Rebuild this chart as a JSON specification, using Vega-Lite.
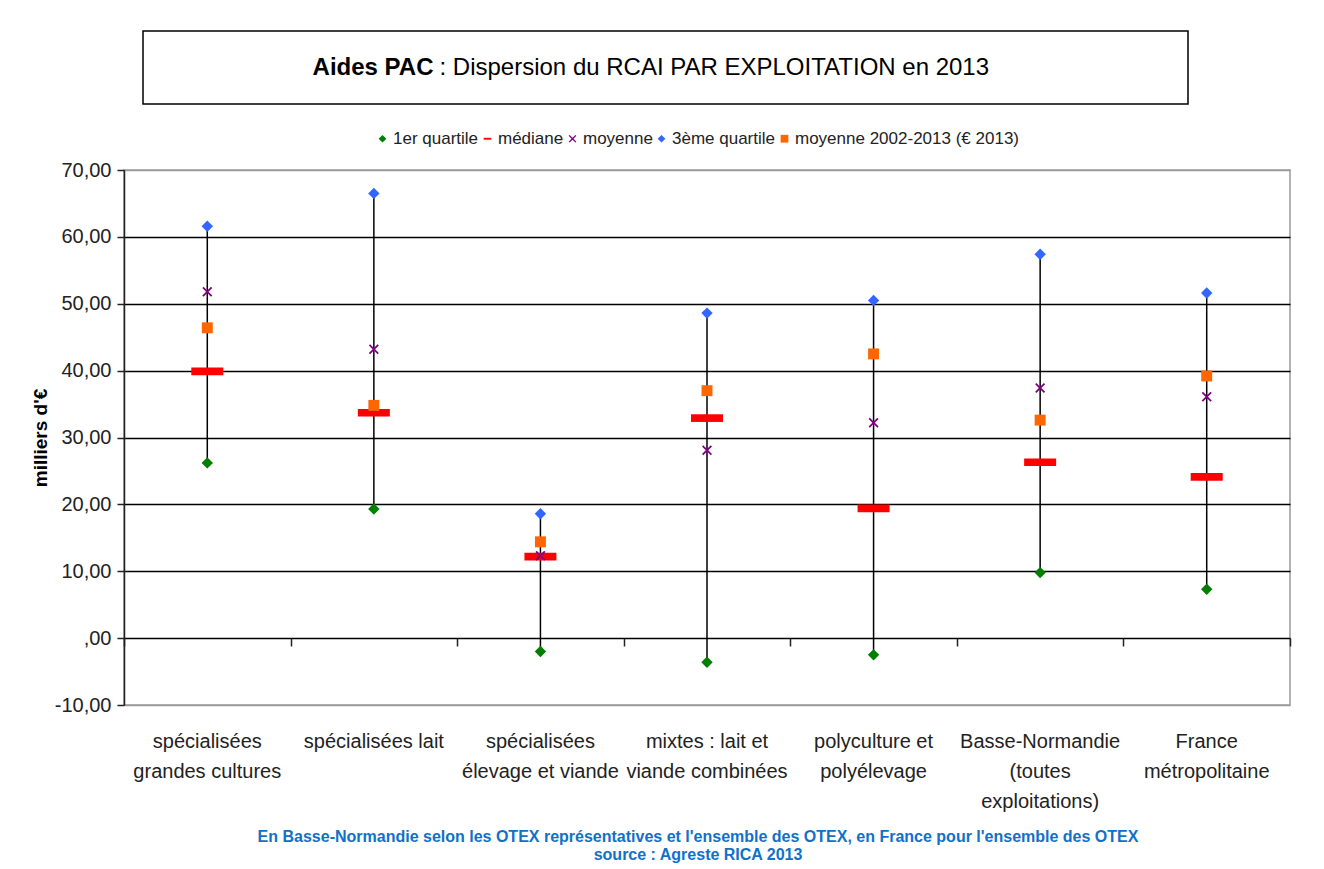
{
  "$schema": "https://vega.github.io/schema/vega-lite/v6.json",
  "background": "white",
  "padding": {"left": 30, "top": 30, "right": 10, "bottom": 5},
  "config": {
    "font": "Liberation Sans, Arial, sans-serif",
    "view": {"stroke": null}
  },
  "title": {
    "text": ["En Basse-Normandie selon les OTEX représentatives et l'ensemble des OTEX, en France pour l'ensemble des OTEX", "source : Agreste RICA 2013"],
    "orient": "bottom",
    "anchor": "middle",
    "color": "#1170C8",
    "font": "Liberation Sans, Arial, sans-serif",
    "fontSize": 16,
    "fontWeight": "bold",
    "lineHeight": 18,
    "offset": 17,
    "dx": 37
  },
  "spacing": 24,
  "resolve": {
    "scale": {"color": "independent", "shape": "independent"},
    "legend": {"color": "independent", "shape": "independent"}
  },
  "vconcat": [
    {
      "spacing": 0,
      "hconcat": [
        {
          "width": 18,
          "height": 73,
          "data": {"values": [{"vide": ""}]},
          "mark": {"type": "text", "opacity": 0},
          "encoding": {"text": {"field": "vide"}}
        },
        {
          "width": 1045,
          "height": 73,
          "data": {"values": [{"gras": "Aides PAC", "suite": ": Dispersion du RCAI PAR EXPLOITATION en 2013"}]},
          "view": {"stroke": "black", "strokeWidth": 1.5},
          "layer": [
            {
              "mark": {"type": "text", "align": "right", "baseline": "middle", "dx": -232, "fontSize": 24, "fontWeight": "bold", "color": "black"},
              "encoding": {"text": {"field": "gras"}}
            },
            {
              "mark": {"type": "text", "align": "left", "baseline": "middle", "dx": -226, "fontSize": 24, "color": "black"},
              "encoding": {"text": {"field": "suite"}}
            }
          ]
        }
      ]
    },
    {
      "width": 1166,
      "height": 535,
      "view": {"stroke": "#9a9a9a", "strokeWidth": 1.5},
      "data": {"values": [
        {"cat": "spécialisées grandes cultures", "serie": "1er quartile", "valeur": 26.2},
        {"cat": "spécialisées grandes cultures", "serie": "médiane", "valeur": 39.9},
        {"cat": "spécialisées grandes cultures", "serie": "moyenne", "valeur": 51.8},
        {"cat": "spécialisées grandes cultures", "serie": "3ème quartile", "valeur": 61.6},
        {"cat": "spécialisées grandes cultures", "serie": "moyenne 2002-2013 (€ 2013)", "valeur": 46.4},
        {"cat": "spécialisées lait", "serie": "1er quartile", "valeur": 19.3},
        {"cat": "spécialisées lait", "serie": "médiane", "valeur": 33.7},
        {"cat": "spécialisées lait", "serie": "moyenne", "valeur": 43.2},
        {"cat": "spécialisées lait", "serie": "3ème quartile", "valeur": 66.5},
        {"cat": "spécialisées lait", "serie": "moyenne 2002-2013 (€ 2013)", "valeur": 34.8},
        {"cat": "spécialisées élevage et viande", "serie": "1er quartile", "valeur": -2.0},
        {"cat": "spécialisées élevage et viande", "serie": "médiane", "valeur": 12.2},
        {"cat": "spécialisées élevage et viande", "serie": "moyenne", "valeur": 12.3},
        {"cat": "spécialisées élevage et viande", "serie": "3ème quartile", "valeur": 18.6},
        {"cat": "spécialisées élevage et viande", "serie": "moyenne 2002-2013 (€ 2013)", "valeur": 14.4},
        {"cat": "mixtes : lait et viande combinées", "serie": "1er quartile", "valeur": -3.6},
        {"cat": "mixtes : lait et viande combinées", "serie": "médiane", "valeur": 32.9},
        {"cat": "mixtes : lait et viande combinées", "serie": "moyenne", "valeur": 28.1},
        {"cat": "mixtes : lait et viande combinées", "serie": "3ème quartile", "valeur": 48.6},
        {"cat": "mixtes : lait et viande combinées", "serie": "moyenne 2002-2013 (€ 2013)", "valeur": 37.0},
        {"cat": "polyculture et polyélevage", "serie": "1er quartile", "valeur": -2.5},
        {"cat": "polyculture et polyélevage", "serie": "médiane", "valeur": 19.4},
        {"cat": "polyculture et polyélevage", "serie": "moyenne", "valeur": 32.2},
        {"cat": "polyculture et polyélevage", "serie": "3ème quartile", "valeur": 50.5},
        {"cat": "polyculture et polyélevage", "serie": "moyenne 2002-2013 (€ 2013)", "valeur": 42.5},
        {"cat": "Basse-Normandie (toutes exploitations)", "serie": "1er quartile", "valeur": 9.8},
        {"cat": "Basse-Normandie (toutes exploitations)", "serie": "médiane", "valeur": 26.3},
        {"cat": "Basse-Normandie (toutes exploitations)", "serie": "moyenne", "valeur": 37.4},
        {"cat": "Basse-Normandie (toutes exploitations)", "serie": "3ème quartile", "valeur": 57.4},
        {"cat": "Basse-Normandie (toutes exploitations)", "serie": "moyenne 2002-2013 (€ 2013)", "valeur": 32.6},
        {"cat": "France métropolitaine", "serie": "1er quartile", "valeur": 7.3},
        {"cat": "France métropolitaine", "serie": "médiane", "valeur": 24.1},
        {"cat": "France métropolitaine", "serie": "moyenne", "valeur": 36.1},
        {"cat": "France métropolitaine", "serie": "3ème quartile", "valeur": 51.6},
        {"cat": "France métropolitaine", "serie": "moyenne 2002-2013 (€ 2013)", "valeur": 39.2}
      ]},
      "resolve": {"axis": {"x": "independent"}},
      "layer": [
        {
          "transform": [
            {"aggregate": [{"op": "min", "field": "valeur", "as": "bas"}, {"op": "max", "field": "valeur", "as": "haut"}], "groupby": ["cat"]}
          ],
          "mark": {"type": "rule", "color": "black", "strokeWidth": 1.5},
          "encoding": {
            "x": {
              "field": "cat", "type": "nominal",
              "scale": {"type": "band", "paddingInner": 0, "paddingOuter": 0,
                "domain": ["spécialisées grandes cultures", "spécialisées lait", "spécialisées élevage et viande", "mixtes : lait et viande combinées", "polyculture et polyélevage", "Basse-Normandie (toutes exploitations)", "France métropolitaine"]},
              "axis": {
                "title": null, "orient": "bottom", "domain": false, "ticks": false,
                "labelAngle": 0, "labelFontSize": 20, "labelColor": "#222", "labelPadding": 36,
                "labelBaseline": "middle", "labelLineHeight": 30, "labelLimit": 0,
                "labelExpr": "{'spécialisées grandes cultures': ['spécialisées', 'grandes cultures'], 'spécialisées lait': ['spécialisées lait'], 'spécialisées élevage et viande': ['spécialisées', 'élevage et viande'], 'mixtes : lait et viande combinées': ['mixtes : lait et', 'viande combinées'], 'polyculture et polyélevage': ['polyculture et', 'polyélevage'], 'Basse-Normandie (toutes exploitations)': ['Basse-Normandie', '(toutes', 'exploitations)'], 'France métropolitaine': ['France', 'métropolitaine']}[datum.label]"
              }
            },
            "y": {
              "field": "bas", "type": "quantitative",
              "scale": {"domain": [-10, 70], "nice": false, "zero": false},
              "axis": {
                "title": "milliers d'€", "titleFontSize": 19, "titleFontWeight": "bold", "titleColor": "black",
                "titlePadding": 4,
                "values": [-10, 0, 10, 20, 30, 40, 50, 60, 70],
                "labelExpr": "datum.value == 0 ? ',00' : (datum.value < 0 ? '-' : '') + replace(format(abs(datum.value), '.2f'), '.', ',')",
                "labelFontSize": 20, "labelColor": "#222", "labelPadding": 6,
                "domainColor": "#222", "domainWidth": 1.5,
                "tickColor": "#222", "tickSize": 7, "tickWidth": 1.5,
                "grid": true,
                "gridColor": {"condition": {"test": "datum.value == 70 || datum.value == -10", "value": "#9a9a9a"}, "value": "black"},
                "gridWidth": 1.6
              }
            },
            "y2": {"field": "haut"}
          }
        },
        {
          "transform": [{"filter": "datum.serie == 'médiane'"}],
          "mark": {"type": "point", "filled": true, "opacity": 1, "size": 1024},
          "encoding": {
            "x": {
              "field": "cat", "type": "nominal",
              "axis": {
                "title": null, "orient": "bottom", "offset": -67, "labels": false,
                "tickBand": "extent", "ticks": true, "tickSize": 8, "tickColor": "#222", "tickWidth": 1.5,
                "domain": false
              }
            },
            "y": {"field": "valeur", "type": "quantitative"},
            "color": {
              "field": "serie", "type": "nominal",
              "scale": {
                "domain": ["1er quartile", "médiane", "moyenne", "3ème quartile", "moyenne 2002-2013 (€ 2013)"],
                "range": ["#008000", "#FF0000", "#800080", "#3366FF", "#FF6600"]
              },
              "legend": {
                "title": null, "orient": "none", "legendX": 250, "legendY": -40, "direction": "horizontal",
                "padding": 0, "labelFontSize": 17, "labelColor": "#222", "labelLimit": 0,
                "symbolSize": 60, "columnPadding": 0, "labelOffset": 2, "symbolStrokeWidth": 0
              }
            },
            "shape": {
              "field": "serie", "type": "nominal",
              "scale": {
                "domain": ["1er quartile", "médiane", "moyenne", "3ème quartile", "moyenne 2002-2013 (€ 2013)"],
                "range": ["diamond", "M-1,-0.24H1V0.24H-1Z", "M-1,-0.75L-0.75,-1L0,-0.25L0.75,-1L1,-0.75L0.25,0L1,0.75L0.75,1L0,0.25L-0.75,1L-1,0.75L-0.25,0Z", "diamond", "square"]
              }
            }
          }
        },
        {
          "transform": [{"filter": "datum.serie == 'moyenne 2002-2013 (€ 2013)'"}],
          "mark": {"type": "point", "filled": true, "opacity": 1, "size": 120},
          "encoding": {
            "x": {"field": "cat", "type": "nominal", "axis": null},
            "y": {"field": "valeur", "type": "quantitative"},
            "color": {"field": "serie", "type": "nominal"},
            "shape": {"field": "serie", "type": "nominal"}
          }
        },
        {
          "transform": [{"filter": "datum.serie == 'moyenne'"}],
          "mark": {"type": "point", "filled": true, "opacity": 1, "size": 100},
          "encoding": {
            "x": {"field": "cat", "type": "nominal", "axis": null},
            "y": {"field": "valeur", "type": "quantitative"},
            "color": {"field": "serie", "type": "nominal"},
            "shape": {"field": "serie", "type": "nominal"}
          }
        },
        {
          "transform": [{"filter": "datum.serie == '1er quartile' || datum.serie == '3ème quartile'"}],
          "mark": {"type": "point", "filled": true, "opacity": 1, "size": 130},
          "encoding": {
            "x": {"field": "cat", "type": "nominal", "axis": null},
            "y": {"field": "valeur", "type": "quantitative"},
            "color": {"field": "serie", "type": "nominal"},
            "shape": {"field": "serie", "type": "nominal"}
          }
        }
      ]
    }
  ]
}
